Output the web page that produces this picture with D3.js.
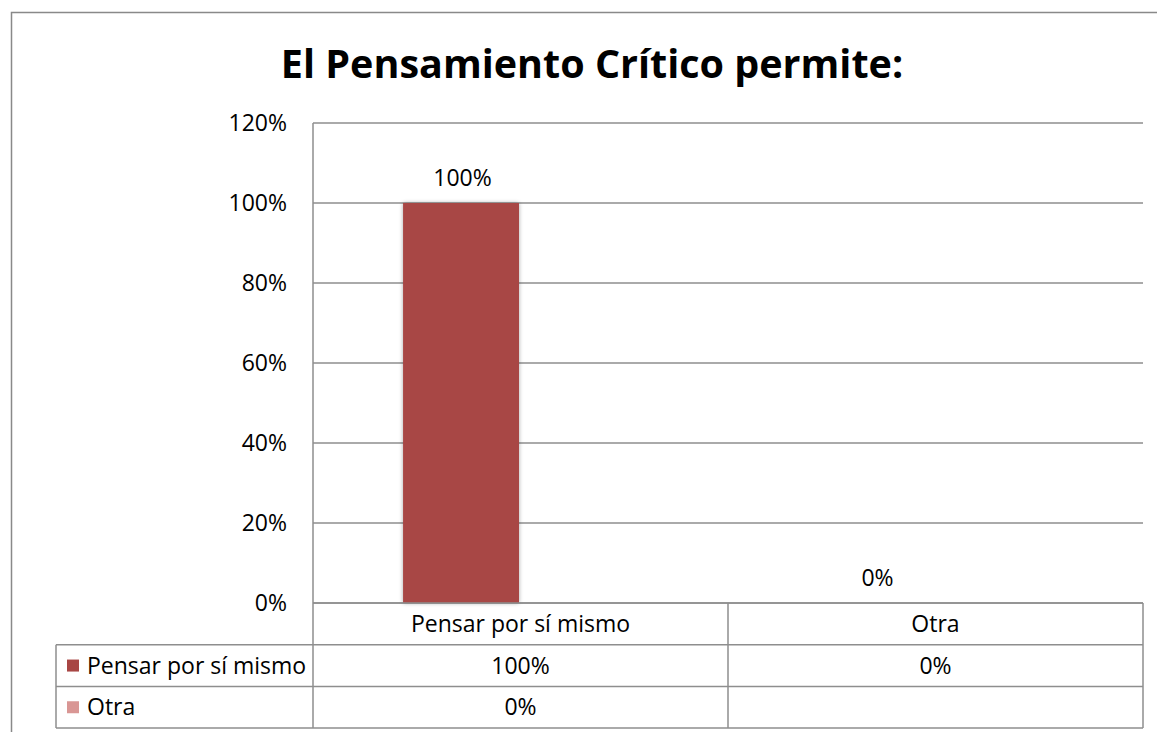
<!DOCTYPE html>
<html>
<head>
<meta charset="utf-8">
<script src="https://cdn.jsdelivr.net/npm/d3@7/dist/d3.min.js"></script>
<style>
  html, body { margin: 0; padding: 0; background: #fff; }
  svg { display: block; font-family: 'Open Sans', sans-serif; }
</style>
</head>
<body>
<svg id="chart"></svg>
<script>
const title = 'El Pensamiento Crítico permite:'
const categories = ['Pensar por sí mismo', 'Otra']
const seriesNames = ['Pensar por sí mismo', 'Otra']
const pensarValues = [1.0, 0.0]
const otraValues = [0.0, null]
const yTicks = [0, 0.2, 0.4, 0.6, 0.8, 1.0, 1.2]
const seriesColors = ['#a84644', '#d99694']

const WIDTH = 1157
const HEIGHT = 732
const plot = { left: 313, right: 1143, top: 123, bottom: 603 }
const table = { left: 56, rowH: 41.7 }

const svg = d3.select('#chart')
    .attr('width', WIDTH)
    .attr('height', HEIGHT)
    .attr('viewBox', `0 0 ${WIDTH} ${HEIGHT}`)

const series = [
    { name: seriesNames[0], values: pensarValues, color: seriesColors[0], labels: true },
    { name: seriesNames[1], values: otraValues, color: seriesColors[1], labels: false },
]

const defs = svg.append('defs')
const shadow = defs.append('filter').attr('id', 'barShadow')
    .attr('x', '-20%').attr('y', '-10%').attr('width', '140%').attr('height', '120%')
shadow.append('feGaussianBlur').attr('in', 'SourceAlpha').attr('stdDeviation', 2)
shadow.append('feComponentTransfer').append('feFuncA').attr('type', 'linear').attr('slope', 0.35)
const merge = shadow.append('feMerge')
merge.append('feMergeNode')
merge.append('feMergeNode').attr('in', 'SourceGraphic')

// outer chart border
svg.append('rect')
    .attr('x', 11.5).attr('y', 12.5)
    .attr('width', WIDTH + 20).attr('height', HEIGHT + 20)
    .attr('fill', '#fff').attr('stroke', '#898989').attr('stroke-width', 1.5)

svg.append('text')
    .attr('x', 592).attr('y', 78)
    .attr('text-anchor', 'middle')
    .style('font-size', '39.5px').style('font-weight', 700)
    .attr('fill', '#000')
    .text(title)

// scales
const x0 = d3.scaleBand().domain(categories).range([plot.left, plot.right]).paddingInner(0).paddingOuter(0)
const x1 = d3.scaleBand().domain(seriesNames).range([0, x0.bandwidth()]).paddingInner(0).paddingOuter(0.79)
const y = d3.scaleLinear().domain([0, 1.2]).range([plot.bottom, plot.top])
const pct = d3.format('.0%')

// gridlines
svg.append('g')
    .selectAll('line')
    .data(yTicks)
    .join('line')
    .attr('x1', plot.left).attr('x2', plot.right)
    .attr('y1', d => y(d)).attr('y2', d => y(d))
    .attr('stroke', '#8e8e8e').attr('stroke-width', 1.5)

// y axis
const yAxis = d3.axisLeft(y).tickValues(yTicks).tickFormat(pct).tickSize(0).tickPadding(26)
const yAxisGroup = svg.append('g')
    .attr('transform', `translate(${plot.left},0)`)
    .call(yAxis)
yAxisGroup.select('.domain').remove()
yAxisGroup.selectAll('text')
    .style('font-size', '23px')
    .style('font-family', "'Open Sans', sans-serif")
    .attr('fill', '#000')

// bars
const barGroups = svg.append('g')
    .selectAll('g')
    .data(series)
    .join('g')

barGroups.selectAll('rect')
    .data(s => categories.map((c, i) => ({ cat: c, series: s, value: s.values[i] })).filter(d => d.value))
    .join('rect')
    .attr('x', d => x0(d.cat) + x1(d.series.name) - 1.5)
    .attr('width', x1.bandwidth())
    .attr('y', d => y(d.value))
    .attr('height', d => y(0) - y(d.value))
    .attr('fill', d => d.series.color)
    .attr('filter', 'url(#barShadow)')

// data labels
barGroups.filter(s => s.labels)
    .selectAll('text')
    .data(s => categories.map((c, i) => ({ cat: c, series: s, value: s.values[i] })).filter(d => d.value !== null))
    .join('text')
    .attr('x', d => x0(d.cat) + x1(d.series.name) + x1.bandwidth() / 2)
    .attr('y', d => y(d.value) - 17)
    .attr('text-anchor', 'middle')
    .style('font-size', '23px')
    .attr('fill', '#000')
    .text(d => pct(d.value))

// data table
const tableTop = plot.bottom
const rowY = i => tableTop + i * table.rowH
const tableBottom = rowY(3)
const grid = svg.append('g').attr('stroke', '#8e8e8e').attr('stroke-width', 1.5)

grid.append('line').attr('x1', plot.left).attr('x2', plot.right).attr('y1', rowY(0)).attr('y2', rowY(0))
;[1, 2, 3].forEach(i => {
    grid.append('line').attr('x1', table.left).attr('x2', plot.right).attr('y1', rowY(i)).attr('y2', rowY(i))
})
grid.append('line').attr('x1', table.left).attr('x2', table.left).attr('y1', rowY(1)).attr('y2', tableBottom)
grid.append('line').attr('x1', plot.left).attr('x2', plot.left).attr('y1', plot.top).attr('y2', tableBottom)
categories.forEach(c => {
    const xr = x0(c) + x0.bandwidth()
    grid.append('line').attr('x1', xr).attr('x2', xr).attr('y1', tableTop).attr('y2', tableBottom)
})

const cellText = svg.append('g').style('font-size', '23px').attr('fill', '#000')
categories.forEach(c => {
    cellText.append('text')
        .attr('x', x0(c) + x0.bandwidth() / 2).attr('y', rowY(0) + table.rowH / 2)
        .attr('dy', '0.35em').attr('text-anchor', 'middle')
        .text(c)
})
series.forEach((s, r) => {
    const cy = rowY(r + 1) + table.rowH / 2
    cellText.append('rect')
        .attr('x', 67).attr('y', cy - 6).attr('width', 12).attr('height', 12)
        .attr('fill', s.color)
    cellText.append('text')
        .attr('x', 87).attr('y', cy).attr('dy', '0.35em')
        .text(s.name)
    categories.forEach((c, i) => {
        if (s.values[i] === null) return
        cellText.append('text')
            .attr('x', x0(c) + x0.bandwidth() / 2).attr('y', cy)
            .attr('dy', '0.35em').attr('text-anchor', 'middle')
            .text(pct(s.values[i]))
    })
})
</script>
</body>
</html>
